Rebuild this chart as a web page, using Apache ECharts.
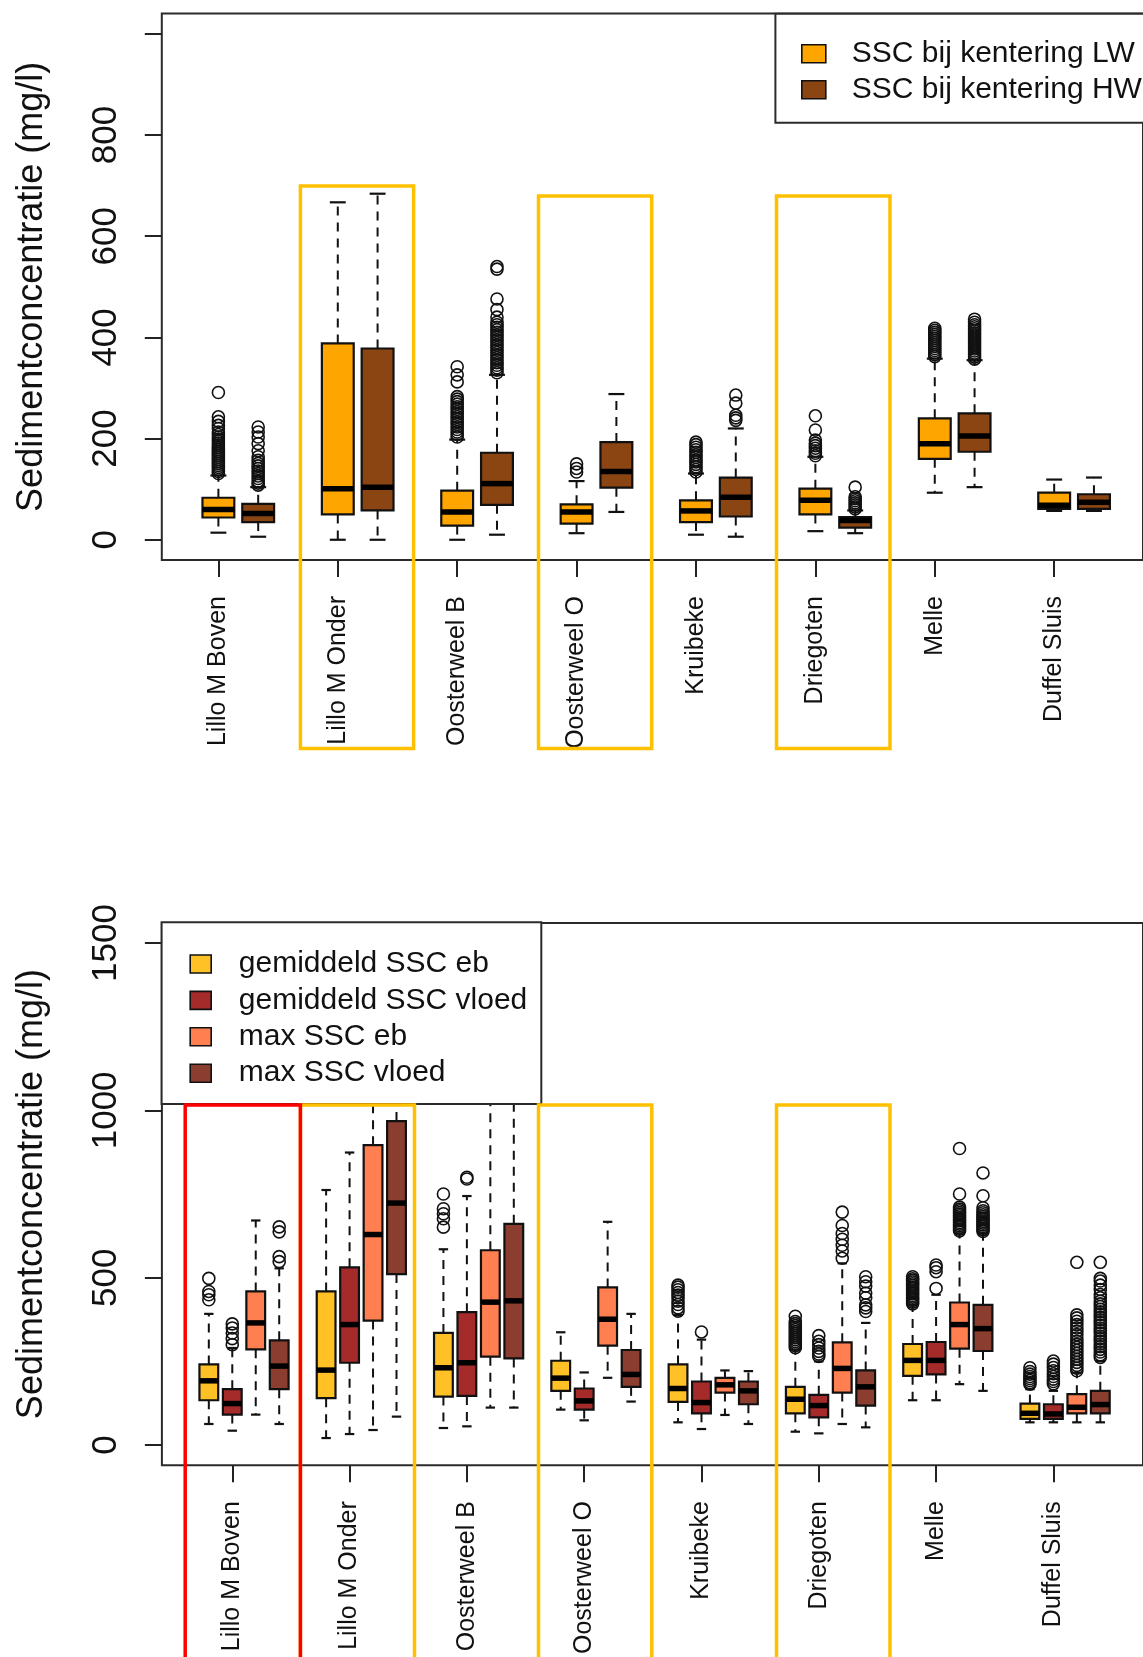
<!DOCTYPE html>
<html>
<head>
<meta charset="utf-8">
<script src="https://cdn.jsdelivr.net/npm/echarts@6/dist/echarts.min.js"></script>
<style>
  html, body { margin: 0; padding: 0; background: #fff; }
  #chart { width: 1143px; height: 1657px; }
</style>
</head>
<body>
<div id="chart"></div>
<script>
// Measuring stations (same order in both panels)
const sites = ['Lillo M Boven', 'Lillo M Onder', 'Oosterweel B', 'Oosterweel O',
               'Kruibeke', 'Driegoten', 'Melle', 'Duffel Sluis'];

// Upper panel: SSC at slack water, box stats per station [whisker low, Q1, median, Q3, whisker high]
const lwStats = [
  [14, 44, 60, 83, 127],
  [0, 50, 101, 388, 667],
  [0, 28, 55, 97, 198],
  [13, 32, 55, 70, 116],
  [10, 35, 57, 78, 131],
  [17, 50, 78, 101, 164],
  [93, 160, 190, 240, 358],
  [57, 61, 68, 93, 119]
];
const hwStats = [
  [6, 35, 52, 71, 104],
  [0, 58, 104, 378, 684],
  [10, 69, 111, 172, 326],
  [55, 103, 135, 193, 288],
  [6, 46, 84, 123, 220],
  [13, 24, 38, 45, 58],
  [104, 174, 205, 250, 355],
  [57, 61, 74, 90, 123]
];
const lwOutliers = [
  [131, 135, 139, 143, 147, 151, 155, 159, 163, 167, 171, 175, 179, 183, 187, 191, 195, 199, 203, 208, 213, 220, 226, 234, 243, 291],
  [],
  [203, 208, 213, 218, 223, 228, 233, 238, 243, 248, 253, 258, 263, 268, 273, 278, 283, 312, 326, 342],
  [134, 141, 150],
  [134, 139, 144, 149, 154, 158, 163, 168, 173, 178, 183, 188, 193],
  [166, 171, 176, 181, 186, 191, 197, 217, 245],
  [362, 366, 370, 374, 378, 382, 386, 390, 394, 398, 402, 406, 410, 414, 418],
  []
];
const hwOutliers = [
  [108, 112, 116, 121, 126, 131, 136, 141, 146, 151, 157, 164, 176, 190, 203, 213, 223],
  [],
  [330, 335, 340, 345, 350, 355, 360, 365, 370, 375, 380, 385, 390, 395, 400, 405, 410, 415, 420, 425, 430, 440, 455, 476, 535, 540],
  [],
  [236, 241, 246, 270, 286],
  [61, 65, 69, 73, 77, 81, 85, 104],
  [357, 361, 365, 369, 373, 377, 381, 385, 389, 393, 397, 401, 405, 409, 413, 417, 421, 425, 430, 436],
  []
];

// Lower panel: mean and maximum SSC during ebb and flood
const gemEbStats = [
  [63, 134, 192, 241, 392],
  [21, 140, 224, 459, 762],
  [51, 145, 231, 335, 585],
  [106, 162, 200, 252, 337],
  [68, 129, 169, 241, 389],
  [40, 95, 137, 174, 285],
  [134, 207, 253, 302, 419],
  [68, 78, 95, 124, 167]
];
const gemVloedStats = [
  [43, 91, 124, 167, 290],
  [33, 246, 360, 531, 874],
  [56, 147, 246, 397, 744],
  [74, 106, 132, 169, 217],
  [48, 95, 127, 190, 315],
  [35, 83, 118, 150, 250],
  [134, 211, 253, 308, 449],
  [68, 78, 93, 122, 162]
];
const maxEbStats = [
  [91, 286, 365, 459, 671],
  [45, 372, 629, 896, 1220],
  [112, 264, 427, 582, 1180],
  [201, 297, 376, 471, 667],
  [90, 157, 180, 201, 223],
  [63, 157, 229, 307, 543],
  [182, 288, 360, 426, 632],
  [68, 95, 113, 152, 216]
];
const maxVloedStats = [
  [63, 167, 236, 313, 528],
  [85, 511, 723, 968, 1300],
  [112, 259, 431, 661, 1250],
  [130, 174, 211, 284, 392],
  [63, 122, 162, 190, 221],
  [53, 118, 174, 223, 365],
  [162, 281, 348, 419, 632],
  [68, 95, 121, 162, 251]
];
const gemEbOutliers = [
  [434, 449, 459, 498],
  [],
  [651, 676, 691, 706, 750],
  [],
  [400, 410, 420, 430, 440, 448, 456, 464, 472, 478],
  [291, 297, 303, 309, 315, 321, 327, 333, 339, 345, 351, 357, 363, 369, 385],
  [422, 427, 432, 437, 442, 447, 452, 457, 462, 467, 472, 477, 482, 487, 492, 497, 503],
  [182, 187, 193, 199, 205, 212, 220, 231]
];
const gemVloedOutliers = [
  [300, 318, 335, 350, 362],
  [],
  [795, 800],
  [],
  [338],
  [265, 272, 280, 290, 300, 310, 327],
  [468, 518, 530, 538],
  [183, 190, 197, 205, 213, 222, 232, 242, 251]
];
const maxEbOutliers = [
  [], [], [], [], [],
  [558, 580, 597, 615, 632, 656, 696],
  [640, 645, 650, 655, 660, 665, 670, 675, 680, 685, 690, 695, 700, 705, 711, 750, 886],
  [222, 230, 238, 247, 256, 265, 274, 283, 292, 301, 310, 320, 330, 340, 350, 360, 370, 380, 389, 546]
];
const maxVloedOutliers = [
  [548, 563, 637, 652],
  [], [], [], [],
  [399, 410, 419, 440, 454, 475, 488, 503],
  [638, 643, 648, 653, 658, 663, 668, 673, 678, 683, 688, 694, 700, 709, 745, 813],
  [262, 270, 278, 286, 294, 302, 310, 318, 326, 334, 342, 350, 358, 366, 374, 382, 390, 398, 406, 414, 422, 430, 440, 450, 465, 478, 490, 498, 546]
];

// Axis ticks
const topTicks = [0, 200, 400, 600, 800, 1000];
const topTickLabels = [0, 200, 400, 600, 800];
const bottomTicks = [0, 500, 1000, 1500];
const siteTicks = [0, 1, 2, 3, 4, 5, 6, 7];

const FONT = "'Liberation Sans', Arial, sans-serif";
const INK = '#111';

// Draws one R-style box: dashed whiskers, half-width staples, filled box, heavy median
function boxRenderer(fill, widthUnits) {
  return function (params, api) {
    const x = api.value(0);
    const lo = api.coord([x, api.value(1)]);
    const q1 = api.coord([x, api.value(2)]);
    const md = api.coord([x, api.value(3)]);
    const q3 = api.coord([x, api.value(4)]);
    const hi = api.coord([x, api.value(5)]);
    const w = api.size([widthUnits, 0])[0];
    const cx = lo[0];
    const dashed = { stroke: INK, lineWidth: 2, lineDash: [9, 7], fill: null };
    const solid = { stroke: INK, lineWidth: 2.2, fill: null };
    return {
      type: 'group',
      children: [
        { type: 'line', shape: { x1: cx, y1: q3[1], x2: cx, y2: hi[1] }, style: dashed },
        { type: 'line', shape: { x1: cx, y1: q1[1], x2: cx, y2: lo[1] }, style: dashed },
        { type: 'line', shape: { x1: cx - w / 4, y1: hi[1], x2: cx + w / 4, y2: hi[1] }, style: solid },
        { type: 'line', shape: { x1: cx - w / 4, y1: lo[1], x2: cx + w / 4, y2: lo[1] }, style: solid },
        { type: 'rect', shape: { x: cx - w / 2, y: q3[1], width: w, height: q1[1] - q3[1] },
          style: { fill: fill, stroke: INK, lineWidth: 2.2 } },
        { type: 'line', shape: { x1: cx - w / 2, y1: md[1], x2: cx + w / 2, y2: md[1] },
          style: { stroke: '#000', lineWidth: 5.5 } }
      ]
    };
  };
}

function boxSeries(name, stats, offset, fill, widthUnits, axisIdx) {
  return {
    type: 'custom',
    name: name,
    xAxisIndex: axisIdx,
    yAxisIndex: axisIdx,
    silent: true,
    itemStyle: { color: fill },
    encode: { x: 0, y: [1, 2, 3, 4, 5] },
    data: stats.map((s, i) => [i + offset].concat(s)),
    renderItem: boxRenderer(fill, widthUnits),
    z: 3
  };
}

function outlierSeries(name, lists, offset, axisIdx) {
  const pts = [];
  lists.forEach((vals, i) => vals.forEach(v => pts.push([i + offset, v])));
  return {
    type: 'scatter',
    name: name,
    xAxisIndex: axisIdx,
    yAxisIndex: axisIdx,
    silent: true,
    symbol: 'circle',
    symbolSize: 12,
    itemStyle: { color: 'rgba(0,0,0,0)', borderColor: INK, borderWidth: 1.6, opacity: 1 },
    data: pts,
    z: 4
  };
}

const colors = {
  lw: '#FFA500', hw: '#8B4513',
  gemEb: '#FFC125', gemVloed: '#A52A2A', maxEb: '#FF7F50', maxVloed: '#8B3E2F'
};
const names = {
  lw: 'SSC bij kentering LW', hw: 'SSC bij kentering HW',
  gemEb: 'gemiddeld SSC eb', gemVloed: 'gemiddeld SSC vloed',
  maxEb: 'max SSC eb', maxVloed: 'max SSC vloed'
};

// Top panel: 3 slots per station (LW, HW, gap); bottom panel: 5 slots (4 boxes, gap)
const topSlot = 1 / 3, botSlot = 1 / 5;

function xAxisDef(gridIndex, min, max) {
  return {
    type: 'value', gridIndex: gridIndex, min: min, max: max,
    splitLine: { show: false },
    axisLine: { show: false, onZero: false },
    axisTick: { show: true, length: 17, customValues: siteTicks, lineStyle: { color: '#222', width: 2 } },
    axisLabel: {
      customValues: siteTicks, rotate: 90, margin: 36,
      fontSize: 25, fontFamily: FONT, color: INK,
      formatter: v => sites[v]
    }
  };
}

function yAxisDef(gridIndex, min, max, ticks, labels) {
  return {
    type: 'value', gridIndex: gridIndex, min: min, max: max,
    name: 'Sedimentconcentratie (mg/l)',
    nameLocation: 'middle', nameGap: 112,
    nameTextStyle: { fontSize: 36, fontFamily: FONT, color: INK },
    splitLine: { show: false },
    axisLine: { show: false, onZero: false },
    axisTick: { show: true, length: 17, customValues: ticks, lineStyle: { color: '#222', width: 2 } },
    axisLabel: {
      customValues: labels, rotate: 90, margin: 38,
      fontSize: 35, fontFamily: FONT, color: INK,
      formatter: v => String(v)
    }
  };
}

function legendItem(key) {
  return { name: names[key], icon: 'rect',
           itemStyle: { color: colors[key], borderColor: INK, borderWidth: 1.6 } };
}

// Highlight frames around selected stations (pixel positions on the page)
const frames = [
  { x1: 300.4, y1: 186, x2: 413.6, y2: 748.5, c: '#FFC000' },
  { x1: 538.5, y1: 196, x2: 651.7, y2: 748.5, c: '#FFC000' },
  { x1: 776.5, y1: 196, x2: 890, y2: 748.5, c: '#FFC000' },
  { x1: 300.4, y1: 1105, x2: 414.5, y2: 1720, c: '#FFC000' },
  { x1: 538.5, y1: 1105, x2: 651.8, y2: 1720, c: '#FFC000' },
  { x1: 776.5, y1: 1105, x2: 890, y2: 1720, c: '#FFC000' },
  { x1: 185.2, y1: 1105, x2: 300.4, y2: 1720, c: '#FF0000' }
];

const chart = echarts.init(document.getElementById('chart'), null, { renderer: 'canvas' });

chart.setOption({
  animation: false,
  backgroundColor: '#fff',
  textStyle: { fontFamily: FONT },
  grid: [
    { left: 161.8, top: 13.6, right: 0, height: 546.4, show: true,
      borderColor: '#2b2b2b', borderWidth: 2, backgroundColor: 'transparent' },
    { left: 161.9, top: 922.9, right: 0, height: 544.6, show: true,
      borderColor: '#2b2b2b', borderWidth: 2, backgroundColor: 'transparent' }
  ],
  xAxis: [
    xAxisDef(0, -0.474, 7.744),
    xAxisDef(1, -0.6, 7.764)
  ],
  yAxis: [
    yAxisDef(0, -40, 1040, topTicks, topTickLabels),
    yAxisDef(1, -60, 1560, bottomTicks, bottomTicks)
  ],
  legend: [
    {
      orient: 'vertical', left: 775.4, top: 13.7,
      padding: [22, 24, 15, 25.6], itemGap: 0,
      itemWidth: 24, itemHeight: 18,
      backgroundColor: '#fff', borderColor: '#2b2b2b', borderWidth: 2,
      selectedMode: false, z: 10,
      textStyle: { fontSize: 30, fontFamily: FONT, color: INK, lineHeight: 36, padding: [0, 0, 0, 21] },
      data: [legendItem('lw'), legendItem('hw')]
    },
    {
      orient: 'vertical', left: 161.6, top: 922.3,
      padding: [23.5, 14, 12.6, 27.8], itemGap: 0,
      itemWidth: 21, itemHeight: 18,
      backgroundColor: '#fff', borderColor: '#2b2b2b', borderWidth: 2,
      selectedMode: false, z: 10,
      textStyle: { fontSize: 30, fontFamily: FONT, color: INK, lineHeight: 36.4, padding: [0, 0, 0, 22.6] },
      data: [legendItem('gemEb'), legendItem('gemVloed'), legendItem('maxEb'), legendItem('maxVloed')]
    }
  ],
  series: [
    boxSeries(names.lw, lwStats, 0, colors.lw, topSlot * 0.8, 0),
    boxSeries(names.hw, hwStats, topSlot, colors.hw, topSlot * 0.8, 0),
    outlierSeries(names.lw, lwOutliers, 0, 0),
    outlierSeries(names.hw, hwOutliers, topSlot, 0),

    boxSeries(names.gemEb, gemEbStats, -botSlot, colors.gemEb, botSlot * 0.8, 1),
    boxSeries(names.gemVloed, gemVloedStats, 0, colors.gemVloed, botSlot * 0.8, 1),
    boxSeries(names.maxEb, maxEbStats, botSlot, colors.maxEb, botSlot * 0.8, 1),
    boxSeries(names.maxVloed, maxVloedStats, 2 * botSlot, colors.maxVloed, botSlot * 0.8, 1),
    outlierSeries(names.gemEb, gemEbOutliers, -botSlot, 1),
    outlierSeries(names.gemVloed, gemVloedOutliers, 0, 1),
    outlierSeries(names.maxEb, maxEbOutliers, botSlot, 1),
    outlierSeries(names.maxVloed, maxVloedOutliers, 2 * botSlot, 1)
  ],
  graphic: frames.map(f => ({
    type: 'rect', silent: true, z: 100,
    shape: { x: f.x1, y: f.y1, width: f.x2 - f.x1, height: f.y2 - f.y1 },
    style: { fill: null, stroke: f.c, lineWidth: 3.5 }
  }))
});
</script>
</body>
</html>
